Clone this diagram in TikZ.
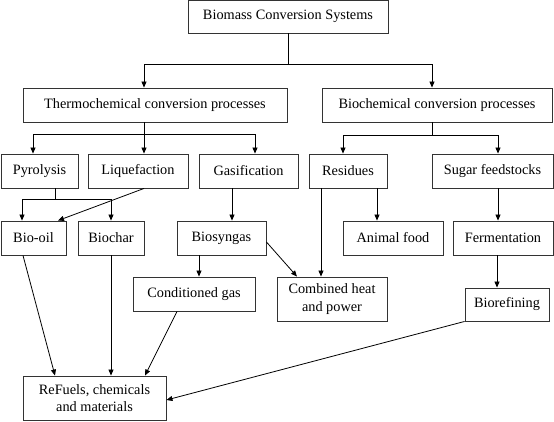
\documentclass[tikz,border=0pt]{standalone}
\usepackage{fontspec}
\setmainfont{Liberation Serif}
\usetikzlibrary{arrows.meta,calc}
\begin{document}
\begin{tikzpicture}[x=1pt,y=-1pt,
  box/.style={draw=black!80,line width=0.9pt,inner sep=0pt,align=center,
    font=\fontsize{14.3}{17.5}\selectfont},
  con/.style={line width=0.8pt,black},
  arr/.style={con,-{Triangle[length=6pt,width=5pt]}}]
\useasboundingbox (0,0) rectangle (554,421);
% nodes
\node[box,minimum width=200,minimum height=33] (top) at (288,16.5) {Biomass Conversion Systems};
\node[box,minimum width=264,minimum height=34] (thermo) at (155,105) {Thermochemical conversion processes};
\node[box,minimum width=230,minimum height=34] (bio) at (437,105) {Biochemical conversion processes};
\node[box,minimum width=77,minimum height=34] (pyro) at (39.5,171) {Pyrolysis};
\node[box,minimum width=100,minimum height=34] (liq) at (138,171) {Liquefaction};
\node[box,minimum width=99,minimum height=34] (gas) at (248.5,171) {Gasification};
\node[box,minimum width=78,minimum height=34] (res) at (348,171) {Residues};
\node[box,minimum width=121,minimum height=34] (sugar) at (492.5,171) {Sugar feedstocks};
\node[box,minimum width=65,minimum height=34] (biooil) at (33.5,238) {Bio-oil};
\node[box,minimum width=66,minimum height=34] (biochar) at (111,238) {Biochar};
\node[box,minimum width=89,minimum height=34] (biosyn) at (221.5,238) {Biosyngas};
\node[box,minimum width=100,minimum height=34] (animal) at (393,238) {Animal food};
\node[box,minimum width=100,minimum height=34] (ferment) at (503,238) {Fermentation};
\node[box,minimum width=122,minimum height=34] (cond) at (194,294) {Conditioned gas};
\node[box,minimum width=110,minimum height=44] (chp) at (332,299) {Combined heat\\and power};
\node[box,minimum width=84,minimum height=33] (bioref) at (507,304.5) {Biorefining};
\node[box,minimum width=143,minimum height=44] (refuels) at (94.5,398) {ReFuels, chemicals\\and materials};
% top split
\coordinate (t0) at (288,64);
\coordinate (ta) at (144,64);
\coordinate (tb) at (432,64);
\draw[con] (top.south) -- (t0);
\draw[con] (ta) -- (tb);
\draw[arr] (ta) -- (ta |- thermo.north);
\draw[arr] (tb) -- (tb |- bio.north);
% thermo bus
\coordinate (th) at (144,134);
\coordinate (b1) at (33,134);
\coordinate (b2) at (144,134);
\coordinate (b3) at (255,134);
\draw[con] (th |- thermo.south) -- (th);
\draw[con] (b1) -- (b3);
\draw[arr] (b1) -- (b1 |- pyro.north);
\draw[arr] (b2) -- (b2 |- liq.north);
\draw[arr] (b3) -- (b3 |- gas.north);
% bio bus
\coordinate (bh) at (432,135);
\coordinate (c1) at (343,135);
\coordinate (c2) at (498,135);
\draw[con] (bh |- bio.south) -- (bh);
\draw[con] (c1) -- (c2);
\draw[arr] (c1) -- (c1 |- res.north);
\draw[arr] (c2) -- (c2 |- sugar.north);
% pyrolysis split
\coordinate (p0) at (55,199);
\coordinate (p1) at (22,199);
\coordinate (p2) at (111,199);
\draw[con] (p0 |- pyro.south) -- (p0);
\draw[con] (p1) -- (p2);
\draw[arr] (p1) -- (p1 |- biooil.north);
\draw[arr] (p2) -- (p2 |- biochar.north);
% liquefaction to bio-oil
\draw[arr] ($(liq.south)+(6,0)$) -- ($(biooil.north)+(24.5,0)$);
% gasification
\coordinate (g0) at (232,200);
\draw[arr] (g0 |- gas.south) -- (g0 |- biosyn.north);
\coordinate (s0) at (199,266);
\draw[arr] (s0 |- biosyn.south) -- (s0 |- cond.north);
\draw[arr] ($(biosyn.east)+(0,4)$) -- ($(chp.north)+(-35,0)$);
% residues
\coordinate (r1) at (321,200);
\coordinate (r2) at (377,200);
\draw[arr] (r1 |- res.south) -- (r1 |- chp.north);
\draw[arr] (r2 |- res.south) -- (r2 |- animal.north);
% sugar
\coordinate (f0) at (498,200);
\draw[arr] (f0 |- sugar.south) -- (f0 |- ferment.north);
\coordinate (f1) at (497,270);
\draw[arr] (f1 |- ferment.south) -- (f1 |- bioref.north);
% into refuels
\draw[arr] ($(biooil.south)+(-10.5,0)$) -- ($(refuels.north)+(-39.5,0)$);
\coordinate (h0) at (111,300);
\draw[arr] (h0 |- biochar.south) -- (h0 |- refuels.north);
\draw[arr] ($(cond.south)+(-17,0)$) -- ($(refuels.north)+(50.5,0)$);
\draw[arr] (bioref.south west) -- ($(refuels.east)+(0,2)$);
\end{tikzpicture}
\end{document}
